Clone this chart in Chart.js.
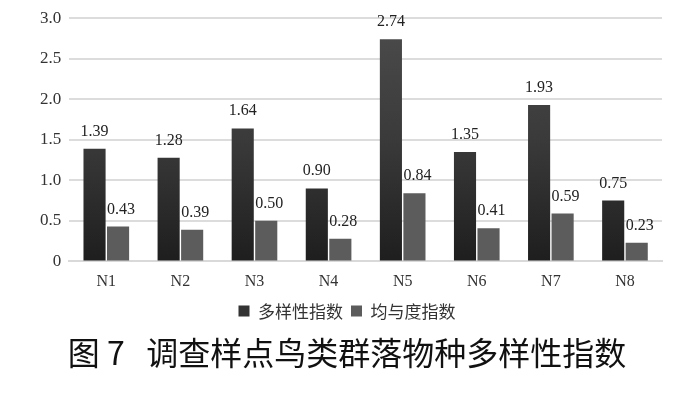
<!DOCTYPE html>
<html lang="zh">
<head>
  <meta charset="UTF-8">
  <title>调查样点鸟类群落物种多样性指数</title>
  <script src="https://cdn.jsdelivr.net/npm/chart.js"></script>
  <style>
    html, body { margin: 0; padding: 0; background: #fff; }
  </style>
</head>
<body>
  <canvas id="birdChart" width="700" height="397"></canvas>

  <script>
    // 数据
    const sites = ["N1", "N2", "N3", "N4", "N5", "N6", "N7", "N8"];
    const diversity = [1.39, 1.28, 1.64, 0.90, 2.74, 1.35, 1.93, 0.75];
    const evenness = [0.43, 0.39, 0.50, 0.28, 0.84, 0.41, 0.59, 0.23];
    const seriesNames = ["多样性指数", "均与度指数"];
    const yTicks = [0, 0.5, 1.0, 1.5, 2.0, 2.5, 3.0];

    // 柱顶数值
    const valueLabels = {
      id: "valueLabels",
      afterDatasetsDraw(chart) {
        const ctx = chart.ctx;
        ctx.save();
        ctx.font = "16px 'Liberation Serif'";
        ctx.fillStyle = "#222";
        ctx.textAlign = "center";
        ctx.textBaseline = "alphabetic";
        chart.data.datasets.forEach((ds, di) => {
          chart.getDatasetMeta(di).data.forEach((bar, i) => {
            const dx = di === 0 ? 0 : 3;
            ctx.fillText(ds.data[i].toFixed(2), bar.x + dx, bar.y - 13);
          });
        });
        ctx.restore();
      }
    };

    function darkGradient(context) {
      const area = context.chart.chartArea;
      if (!area) return "#333";
      const g = context.chart.ctx.createLinearGradient(0, area.bottom, 0, area.top);
      g.addColorStop(0, "#1e1e1e");
      g.addColorStop(0.5, "#3a3a3a");
      g.addColorStop(1, "#4c4c4c");
      return g;
    }

    const legendColors = ["#333333", "#5c5c5c"];

    new Chart(document.getElementById("birdChart"), {
      type: "bar",
      data: {
        labels: sites,
        datasets: [
          { label: seriesNames[0], data: diversity, backgroundColor: darkGradient },
          { label: seriesNames[1], data: evenness, backgroundColor: "#5c5c5c" }
        ]
      },
      plugins: [valueLabels],
      options: {
        responsive: false,
        animation: false,
        layout: { padding: { left: 32, right: 38, top: 16, bottom: 25 } },
        datasets: { bar: { categoryPercentage: 0.635, barPercentage: 0.94 } },
        plugins: {
          legend: {
            position: "bottom",
            labels: {
              boxWidth: 11, boxHeight: 11, padding: 8,
              color: "#333",
              font: { size: 17, family: "'Noto Sans CJK SC'" },
              generateLabels(chart) {
                return chart.data.datasets.map((ds, i) => ({
                  text: ds.label,
                  fillStyle: legendColors[i],
                  strokeStyle: legendColors[i],
                  lineWidth: 0,
                  fontColor: "#333",
                  datasetIndex: i
                }));
              }
            }
          },
          title: {
            display: true,
            position: "bottom",
            text: "图 7   调查样点鸟类群落物种多样性指数",
            color: "#111",
            padding: { top: 4, bottom: 0 },
            font: { size: 32, weight: "normal", family: "'Noto Sans CJK SC'" }
          },
          tooltip: { enabled: false }
        },
        scales: {
          x: {
            grid: { display: false },
            border: { color: "#d9d9d9", width: 2 },
            ticks: { color: "#333", font: { size: 16, family: "'Liberation Serif'" } }
          },
          y: {
            min: 0, max: 3.0,
            afterBuildTicks(axis) { axis.ticks = yTicks.map(v => ({ value: v })); },
            grid: { color: "#dcdcdc", lineWidth: 2, drawTicks: false },
            border: { display: false },
            ticks: {
              padding: 8,
              color: "#333",
              font: { size: 17, family: "'Liberation Serif'" },
              callback: v => v === 0 ? "0" : v.toFixed(1)
            }
          }
        }
      }
    });
  </script>
</body>
</html>
